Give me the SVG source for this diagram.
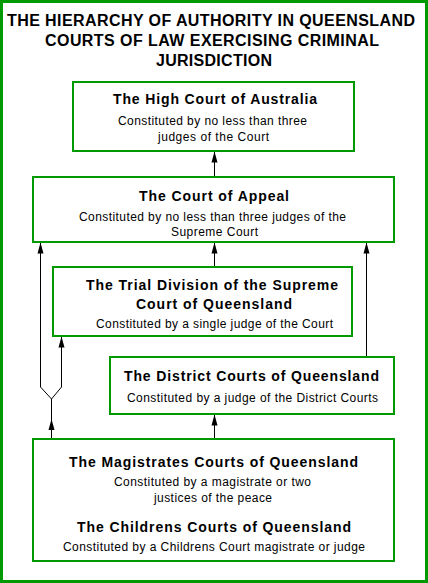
<svg xmlns="http://www.w3.org/2000/svg" width="428" height="583" viewBox="0 0 428 583">
<style>
.frame{fill:#ffffff;stroke:#009900;stroke-width:3}
.box{fill:#ffffff;stroke:#009900;stroke-width:2}
.title{font-family:"Liberation Sans",Arial,sans-serif;font-size:16px;font-weight:bold;fill:#000}
.hd{font-family:"Liberation Sans",Arial,sans-serif;font-size:14px;font-weight:bold;fill:#000}
.sub{font-family:"Liberation Sans",Arial,sans-serif;font-size:12px;fill:#000}
.conn{fill:none;stroke:#000;stroke-width:1}
</style>
<defs>
<marker id="ah" markerUnits="userSpaceOnUse" viewBox="-1 -4 13 8" markerWidth="13" markerHeight="8" refX="11" refY="0" orient="auto">
<path d="M0,-3 L11,0 L0,3 Z" fill="#000"/>
</marker>
</defs>
<rect class="frame" x="1.5" y="1.5" width="425" height="580"/>
<g id="title">
<text class="title" x="7" y="26" textLength="408" lengthAdjust="spacing">THE HIERARCHY OF AUTHORITY IN QUEENSLAND</text>
<text class="title" x="45" y="46" textLength="334" lengthAdjust="spacing">COURTS OF LAW EXERCISING CRIMINAL</text>
<text class="title" x="156" y="66" textLength="116" lengthAdjust="spacing">JURISDICTION</text>
</g>
<g id="connectors">
<path class="conn" d="M214.5,177 V151.5" marker-end="url(#ah)"/>
<path class="conn" d="M214.5,267 V242.5" marker-end="url(#ah)"/>
<path class="conn" d="M366.5,357 V242.5" marker-end="url(#ah)"/>
<path class="conn" d="M214.5,439 V414.5" marker-end="url(#ah)"/>
<path class="conn" d="M51.5,419 V399 L40.5,387 V242.5" marker-end="url(#ah)"/>
<path class="conn" d="M51.5,399 L61.5,387 V336.5" marker-end="url(#ah)"/>
<path class="conn" d="M51.5,439 V419" marker-end="url(#ah)"/>
</g>
<g id="high-court">
<rect class="box" x="73" y="82" width="281" height="69"/>
<text class="hd" x="113" y="104" textLength="204" lengthAdjust="spacing">The High Court of Australia</text>
<text class="sub" x="118" y="125" textLength="189" lengthAdjust="spacing">Constituted by no less than three</text>
<text class="sub" x="158" y="141" textLength="111" lengthAdjust="spacing">judges of the Court</text>
</g>
<g id="court-of-appeal">
<rect class="box" x="33" y="177" width="361" height="65"/>
<text class="hd" x="139" y="201" textLength="150" lengthAdjust="spacing">The Court of Appeal</text>
<text class="sub" x="79" y="221" textLength="267" lengthAdjust="spacing">Constituted by no less than three judges of the</text>
<text class="sub" x="171" y="236" textLength="87" lengthAdjust="spacing">Supreme Court</text>
</g>
<g id="trial-division">
<rect class="box" x="53" y="267" width="299" height="69"/>
<text class="hd" x="86" y="290" textLength="252" lengthAdjust="spacing">The Trial Division of the Supreme</text>
<text class="hd" x="136" y="309" textLength="156" lengthAdjust="spacing">Court of Queensland</text>
<text class="sub" x="96" y="328" textLength="237" lengthAdjust="spacing">Constituted by a single judge of the Court</text>
</g>
<g id="district-courts">
<rect class="box" x="110" y="357" width="284" height="57"/>
<text class="hd" x="124" y="381" textLength="255" lengthAdjust="spacing">The District Courts of Queensland</text>
<text class="sub" x="127" y="402" textLength="251" lengthAdjust="spacing">Constituted by a judge of the District Courts</text>
</g>
<g id="magistrates-courts">
<rect class="box" x="33" y="439" width="361" height="122"/>
<text class="hd" x="69" y="467" textLength="289" lengthAdjust="spacing">The Magistrates Courts of Queensland</text>
<text class="sub" x="114" y="486" textLength="197" lengthAdjust="spacing">Constituted by a magistrate or two</text>
<text class="sub" x="154" y="502" textLength="118" lengthAdjust="spacing">justices of the peace</text>
<text class="hd" x="77" y="532" textLength="274" lengthAdjust="spacing">The Childrens Courts of Queensland</text>
<text class="sub" x="63" y="551" textLength="302" lengthAdjust="spacing">Constituted by a Childrens Court magistrate or judge</text>
</g>
</svg>
